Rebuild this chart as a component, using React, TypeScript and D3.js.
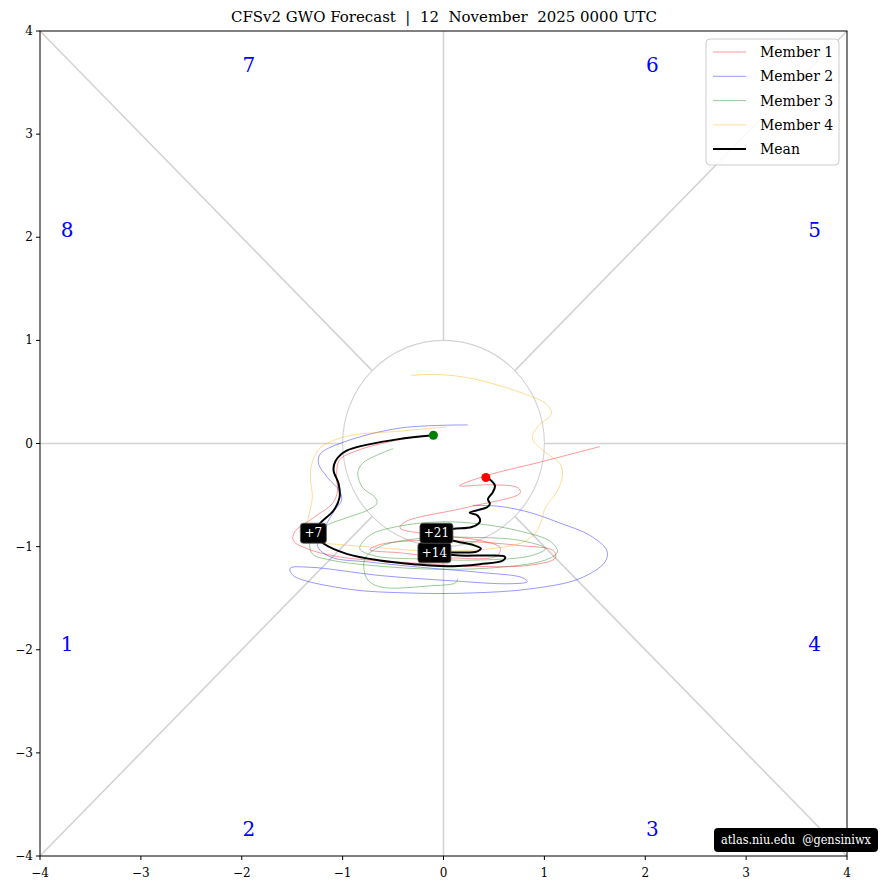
import { scaleLinear, line, curveCatmullRom } from 'd3';

const title = 'CFSv2 GWO Forecast  |  12  November  2025 0000 UTC';
const ticks = [-4, -3, -2, -1, 0, 1, 2, 3, 4];

// phase numbers and where they sit (data units)
const phaseNames = ['1', '2', '3', '4', '5', '6', '7', '8'];
const phaseX = [-3.73, -1.93, 2.07, 3.68, 3.68, 2.07, -1.93, -3.73];
const phaseY = [-1.94, -3.74, -3.74, -1.94, 2.07, 3.67, 3.67, 2.07];

const member1 = [
  [-0.13, 0.08], [-0.47, 0.03], [-0.86, -0.07], [-1.03, -0.16], [-1.06, -0.33], [-1.05, -0.46],
  [-1.1, -0.58], [-1.29, -0.72], [-1.47, -0.85], [-1.49, -0.94], [-1.35, -1.02], [-1.03, -1.1],
  [-0.43, -1.15], [0.26, -1.19], [0.86, -1.18], [1.11, -1.11], [1.09, -1.04], [0.76, -0.99],
  [0.26, -0.95], [-0.23, -0.94], [-0.63, -0.98], [-0.73, -1.03], [-0.43, -1.06], [0.09, -1.11],
  [0.53, -1.09], [0.56, -1.01], [0.36, -0.94], [-0.03, -0.89], [-0.43, -0.82], [-0.38, -0.76],
  [0.23, -0.62], [0.76, -0.48], [0.74, -0.43], [0.46, -0.4], [0.16, -0.41], [0.43, -0.31],
  [0.96, -0.18], [1.55, -0.03],
];
const member2 = [
  [0.24, 0.18], [-0.43, 0.15], [-1.0, 0.01], [-1.22, -0.1], [-1.24, -0.19], [-1.15, -0.33],
  [-1.03, -0.46], [-1.01, -0.55], [-1.08, -0.65], [-1.17, -0.8], [-1.25, -0.99], [-1.12, -1.1],
  [-0.73, -1.15], [-0.23, -1.2], [0.36, -1.25], [0.78, -1.3], [0.83, -1.34], [0.66, -1.36],
  [0.06, -1.33], [-0.63, -1.28], [-1.32, -1.2], [-1.52, -1.21], [-1.49, -1.28], [-0.96, -1.41],
  [-0.33, -1.45], [0.26, -1.45], [0.86, -1.41], [1.35, -1.31], [1.6, -1.15], [1.62, -1.04],
  [1.45, -0.89], [1.15, -0.77], [0.86, -0.67], [0.56, -0.61], [0.29, -0.6],
];
const member3 = [
  [-0.5, -0.05], [-0.8, -0.19], [-0.85, -0.29], [-0.8, -0.43], [-0.68, -0.52], [-0.66, -0.58],
  [-0.76, -0.65], [-0.96, -0.72], [-1.19, -0.81], [-1.32, -0.94], [-1.3, -1.07], [-1.12, -1.13],
  [-0.63, -1.19], [-0.03, -1.22], [0.56, -1.2], [1.01, -1.13], [1.13, -1.05], [1.06, -0.95],
  [0.76, -0.85], [0.36, -0.78], [-0.03, -0.76], [-0.43, -0.8], [-0.73, -0.89], [-0.83, -1.02],
  [-0.68, -1.09], [-0.23, -1.12], [0.36, -1.13], [0.86, -1.09], [1.01, -1.02], [0.76, -0.94],
  [0.26, -0.91], [-0.23, -0.92], [-0.63, -1.0], [-0.78, -1.12], [-0.76, -1.31], [-0.63, -1.39],
  [-0.13, -1.38], [0.12, -1.35], [0.14, -1.31],
];
const member4 = [
  [0.03, 0.16], [-0.43, 0.12], [-0.96, 0.07], [-1.22, -0.04], [-1.3, -0.18], [-1.32, -0.33],
  [-1.3, -0.52], [-1.34, -0.72], [-1.37, -0.87], [-1.27, -0.95], [-1.03, -0.98], [-0.63, -1.01],
  [-0.23, -1.04], [0.16, -1.04], [0.56, -1.01], [0.78, -0.96], [0.91, -0.87], [0.97, -0.75],
  [1.01, -0.62], [1.13, -0.46], [1.18, -0.29], [1.15, -0.19], [0.99, -0.07], [0.88, 0.05],
  [0.94, 0.17], [1.07, 0.29], [1.01, 0.39], [0.83, 0.47], [0.56, 0.56], [0.23, 0.64],
  [-0.1, 0.67], [-0.32, 0.66],
];
const meanPath = [
  [-0.1, 0.08], [-0.46, 0.04], [-0.96, -0.07], [-1.07, -0.17], [-1.09, -0.26], [-1.04, -0.39],
  [-1.03, -0.52], [-1.09, -0.65], [-1.22, -0.77], [-1.29, -0.87], [-1.19, -0.97], [-0.96, -1.07],
  [-0.63, -1.135], [-0.3, -1.17], [0.03, -1.19], [0.36, -1.17], [0.59, -1.135], [0.61, -1.1],
  [0.46, -1.086], [0.16, -1.086], [-0.09, -1.06], [0.16, -1.057], [0.33, -1.048], [0.37, -1.018],
  [0.28, -0.98], [0.09, -0.94], [-0.07, -0.87], [0.09, -0.83], [0.28, -0.81], [0.36, -0.76],
  [0.34, -0.7], [0.26, -0.67], [0.43, -0.62], [0.46, -0.585], [0.44, -0.54], [0.49, -0.47],
  [0.51, -0.41], [0.46, -0.35], [0.42, -0.33],
];
const leadLabels = ['+7', '+14', '+21'];
const leadIndex = [9, 20, 26];

const members = [member1, member2, member3, member4];
const memberNames = ['Member 1', 'Member 2', 'Member 3', 'Member 4'];
const memberColors = ['#ff0000', '#0000ff', '#008000', '#ffa500'];

const W = 881;
const H = 890;
const font = "'DejaVu Serif', serif";

export default function App() {
  const x = scaleLinear().domain([-4, 4]).range([40, 847]);
  const y = scaleLinear().domain([-4, 4]).range([856, 31]);
  const path = line<number[]>()
    .x((d) => x(d[0]))
    .y((d) => y(d[1]))
    .curve(curveCatmullRom.alpha(0.5));

  const r = Math.SQRT1_2;
  const grid = [
    [[-4, 0], [-1, 0]], [[1, 0], [4, 0]], [[0, 1], [0, 4]], [[0, -1], [0, -4]],
    [[-4, 4], [-r, r]], [[4, 4], [r, r]], [[-4, -4], [-r, -r]], [[4, -4], [r, -r]],
  ];
  const start = meanPath[0];
  const end = meanPath[meanPath.length - 1];

  return (
    <svg width={W} height={H} style={{ position: 'absolute', left: 0, top: 0, background: '#fff' }} fontFamily={font}>
      <text x={444} y={22} textAnchor="middle" fontSize={15} textLength={426} lengthAdjust="spacingAndGlyphs" style={{ whiteSpace: 'pre' }}>
        {title}
      </text>

      {grid.map((g, i) => (
        <line key={i} x1={x(g[0][0])} y1={y(g[0][1])} x2={x(g[1][0])} y2={y(g[1][1])} stroke="#d3d3d3" strokeWidth={1.6} />
      ))}
      <ellipse cx={x(0)} cy={y(0)} rx={x(1) - x(0)} ry={y(0) - y(1)} fill="none" stroke="#d3d3d3" strokeWidth={1.1} />

      {phaseNames.map((p, i) => (
        <text key={p} x={x(phaseX[i])} y={y(phaseY[i])} fill="#0000ff" fontSize={20} textAnchor="middle" dominantBaseline="central">
          {p}
        </text>
      ))}

      {members.map((m, i) => (
        <path key={i} d={path(m) || ''} fill="none" stroke={memberColors[i]} strokeOpacity={0.5} strokeWidth={0.8} />
      ))}
      <path d={path(meanPath) || ''} fill="none" stroke="#000" strokeWidth={2} />
      <circle cx={x(start[0])} cy={y(start[1])} r={4.5} fill="#008000" />
      <circle cx={x(end[0])} cy={y(end[1])} r={4.5} fill="#ff0000" />

      {leadLabels.map((t, i) => {
        const p = meanPath[leadIndex[i]];
        const w = 12 + 7 * t.length;
        return (
          <g key={t} transform={`translate(${x(p[0])},${y(p[1])})`}>
            <rect x={-w / 2} y={-10} width={w} height={20} rx={3} fill="#000" stroke="#555" strokeWidth={0.8} />
            <text textAnchor="middle" dominantBaseline="central" fill="#fff" fontSize={12}>
              {t}
            </text>
          </g>
        );
      })}

      {/* frame + ticks */}
      <rect x={40} y={31} width={807} height={825} fill="none" stroke="#000" strokeWidth={1} />
      {ticks.map((t) => (
        <g key={'x' + t}>
          <line x1={x(t)} x2={x(t)} y1={856} y2={860} stroke="#000" />
          <text x={x(t)} y={877} textAnchor="middle" fontSize={12}>
            {t < 0 ? '\u2212' + -t : t}
          </text>
        </g>
      ))}
      {ticks.map((t) => (
        <g key={'y' + t}>
          <line x1={36} x2={40} y1={y(t)} y2={y(t)} stroke="#000" />
          <text x={33} y={y(t)} textAnchor="end" dominantBaseline="central" fontSize={12}>
            {t < 0 ? '\u2212' + -t : t}
          </text>
        </g>
      ))}

      {/* legend */}
      <rect x={706} y={39} width={133} height={126} rx={4} fill="#fff" fillOpacity={0.85} stroke="#ccc" />
      {memberNames.map((n, i) => (
        <g key={n} transform={`translate(713,${52 + i * 24.3})`}>
          <line x1={0} x2={33} stroke={memberColors[i]} strokeOpacity={0.5} strokeWidth={0.8} />
          <text x={47} dominantBaseline="central" fontSize={14}>
            {n}
          </text>
        </g>
      ))}
      <g transform="translate(713,149)">
        <line x1={0} x2={33} stroke="#000" strokeWidth={2} />
        <text x={47} dominantBaseline="central" fontSize={14}>
          Mean
        </text>
      </g>

      <rect x={714} y={828} width={164} height={24} rx={4} fill="#000" />
      <text x={796} y={840} textAnchor="middle" dominantBaseline="central" fill="#fff" fontSize={12} textLength={150} lengthAdjust="spacingAndGlyphs" style={{ whiteSpace: 'pre' }}>
        {'atlas.niu.edu  @gensiniwx'}
      </text>
    </svg>
  );
}
